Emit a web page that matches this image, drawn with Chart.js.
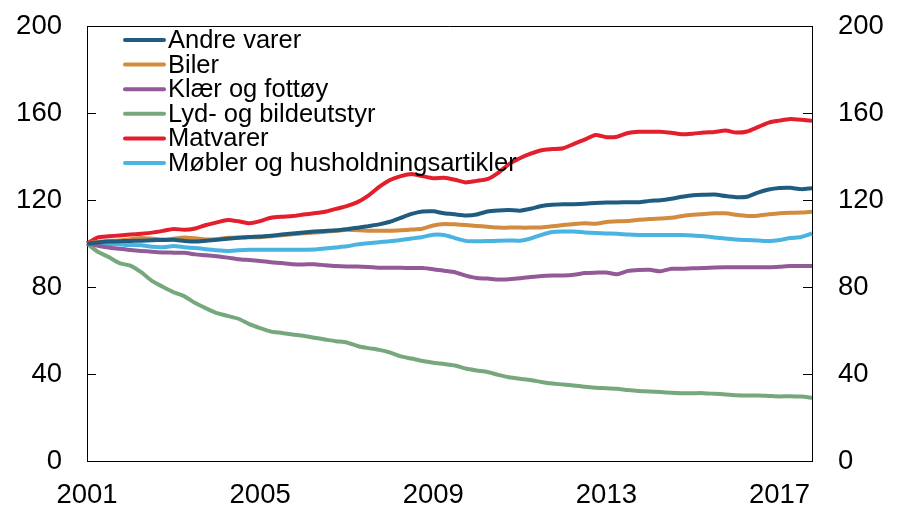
<!DOCTYPE html>
<html>
<head>
<meta charset="utf-8">
<script src="https://cdn.jsdelivr.net/npm/chart.js@4"></script>
<style>
  html, body { margin: 0; padding: 0; background: #fff; }
  #wrap { width: 900px; height: 526px; }
</style>
</head>
<body>
<div id="wrap"><canvas id="priceChart" width="900" height="526"></canvas></div>
<script>
// Prisindekser, 2001 = 100, kvartalsvis 2001K1 - 2017K4
const startYear = 2001;
const endYear = 2017;
const tickYears = ['2001', '2005', '2009', '2013', '2017'];
const yTicks = [0, 40, 80, 120, 160, 200];

const seriesNames = ['Andre varer', 'Biler', 'Klær og fottøy', 'Lyd- og bildeutstyr', 'Matvarer', 'Møbler og husholdningsartikler'];
const seriesColors = ['#1F5C80', '#D38B3F', '#935A98', '#77A87D', '#E31F2D', '#49B3E2'];

const andreVarer = [
    100, 100.5, 100.9, 101.0, 101.2, 101.3, 101.5, 101.6, 101.7, 101.2, 100.9, 101.3,
    101.7, 102.2, 102.6, 103.0, 103.2, 103.6, 104.1, 104.6, 105.1, 105.5, 105.8, 106.1,
    106.6, 107.2, 108.0, 108.8, 110.0, 111.8, 113.6, 114.7, 114.8, 113.9, 113.4, 112.9,
    113.3, 114.7, 115.2, 115.4, 115.1, 116.0, 117.2, 117.8, 118.0, 118.1, 118.3, 118.6,
    118.8, 118.9, 119.0, 119.0, 119.6, 119.9, 120.6, 121.5, 122.2, 122.4, 122.5, 121.8,
    121.3, 121.5, 123.4, 124.8, 125.5, 125.6, 125.0, 125.4
];
const biler = [
    100, 100.8, 101.2, 101.4, 102.0, 102.5, 102.2, 101.8, 102.2, 102.8, 102.4, 101.8,
    102.0, 102.6, 102.8, 102.9, 102.9, 103.3, 103.8, 104.3, 104.7, 105.0, 105.4, 105.8,
    106.3, 106.1, 105.9, 105.9, 105.9, 106.1, 106.4, 106.8, 108.3, 109.0, 108.8, 108.5,
    108.1, 107.7, 107.3, 107.3, 107.3, 107.3, 107.4, 107.9, 108.5, 109.0, 109.3, 109.1,
    109.9, 110.2, 110.3, 110.9, 111.3, 111.5, 111.8, 112.6, 113.2, 113.6, 113.9, 113.9,
    113.2, 112.7, 112.8, 113.4, 113.9, 114.1, 114.2, 114.6
];
const klaer = [
    100, 99.0, 98.2, 97.6, 97.0, 96.6, 96.2, 95.9, 95.8, 95.7, 95.0, 94.6,
    94.1, 93.5, 92.8, 92.4, 92.0, 91.4, 91.0, 90.5, 90.4, 90.5, 90.0, 89.6,
    89.4, 89.4, 89.2, 88.9, 88.8, 88.8, 88.7, 88.7, 88.2, 87.5, 86.8, 85.2,
    84.1, 83.9, 83.4, 83.6, 84.0, 84.6, 85.1, 85.3, 85.3, 85.6, 86.4, 86.6,
    86.7, 85.9, 87.4, 87.8, 87.9, 87.2, 88.4, 88.4, 88.6, 88.7, 89.0, 89.1,
    89.1, 89.1, 89.1, 89.1, 89.3, 89.6, 89.6, 89.6
];
const lydBilde = [
    100, 96.2, 93.8, 91.0, 89.8, 86.8, 82.8, 80.1, 77.6, 75.7, 72.6, 70.2,
    68.0, 66.7, 65.4, 62.9, 61.1, 59.5, 58.9, 58.2, 57.6, 56.7, 55.9, 55.1,
    54.5, 52.9, 51.9, 51.1, 49.9, 48.1, 47.1, 46.0, 45.2, 44.6, 43.9, 42.5,
    41.6, 40.9, 39.6, 38.5, 37.8, 37.2, 36.3, 35.6, 35.2, 34.7, 34.1, 33.7,
    33.5, 33.2, 32.6, 32.2, 32.0, 31.7, 31.4, 31.2, 31.2, 31.2, 30.9, 30.6,
    30.2, 30.1, 30.1, 29.9, 29.7, 29.8, 29.6, 29.1
];
const matvarer = [
    100, 102.8, 103.3, 103.7, 104.1, 104.5, 105.0, 105.8, 106.7, 106.3, 106.9, 108.5,
    109.7, 110.8, 110.2, 109.3, 110.3, 111.8, 112.3, 112.6, 113.3, 113.9, 114.6, 115.9,
    117.2, 119.0, 122.0, 126.0, 129.2, 131.0, 132.0, 131.0, 130.0, 130.2, 129.3, 128.1,
    128.8, 129.6, 132.5, 136.5, 139.2, 141.3, 142.9, 143.4, 143.8, 145.8, 147.8, 149.9,
    148.9, 149.1, 150.8, 151.4, 151.4, 151.4, 150.9, 150.2, 150.5, 151.0, 151.3, 151.9,
    151.0, 151.5, 153.5, 155.6, 156.5, 157.2, 156.9, 156.4
];
const mobler = [
    100, 100.3, 99.8, 99.6, 99.3, 99.2, 98.5, 98.3, 98.8, 98.3, 97.9, 97.4,
    96.9, 96.6, 96.9, 97.1, 97.1, 97.1, 97.1, 97.1, 97.1, 97.2, 97.7, 98.2,
    98.7, 99.6, 100.1, 100.6, 101.0, 101.6, 102.3, 103.0, 104.0, 103.9, 102.5, 101.2,
    101.0, 101.1, 101.3, 101.4, 101.3, 102.3, 104.0, 105.3, 105.5, 105.5, 105.1, 104.8,
    104.6, 104.5, 104.1, 103.9, 103.9, 103.9, 103.9, 103.9, 103.7, 103.3, 102.8, 102.3,
    101.8, 101.6, 101.4, 101.1, 101.6, 102.5, 103.0, 104.6
];

const quarters = [];
for (let y = startYear; y <= endYear; y++) {
    for (let q = 1; q <= 4; q++) quarters.push(y + 'K' + q);
}

const allSeries = [andreVarer, biler, klaer, lydBilde, matvarer, mobler];
const fontFam = '"Liberation Sans", Arial, sans-serif';

// inward tick marks, top border and legend inside the plot
const framePlugin = {
    id: 'frame',
    afterDraw(chart) {
        const ctx = chart.ctx;
        const a = chart.chartArea;
        const ys = chart.scales.y;
        ctx.save();
        ctx.strokeStyle = '#000';
        ctx.lineWidth = 1;
        ctx.beginPath();
        ctx.moveTo(a.left, a.top + 0.5);
        ctx.lineTo(a.right, a.top + 0.5);
        yTicks.forEach(function (v) {
            const py = Math.round(ys.getPixelForValue(v)) + 0.5;
            ctx.moveTo(a.left, py);
            ctx.lineTo(a.left + 9, py);
            ctx.moveTo(a.right - 9, py);
            ctx.lineTo(a.right, py);
        });
        ctx.stroke();

        ctx.font = '25.5px ' + fontFam;
        ctx.textBaseline = 'middle';
        ctx.textAlign = 'left';
        ctx.lineCap = 'round';
        chart.data.datasets.forEach(function (ds, i) {
            const cy = 40 + i * 24.6;
            ctx.strokeStyle = ds.borderColor;
            ctx.lineWidth = 4;
            ctx.beginPath();
            ctx.moveTo(125, cy);
            ctx.lineTo(164, cy);
            ctx.stroke();
            ctx.fillStyle = '#000';
            ctx.fillText(ds.label, 168, cy + 1);
        });
        ctx.restore();
    }
};

const datasets = allSeries.map(function (vals, i) {
    return {
        label: seriesNames[i],
        data: vals,
        borderColor: seriesColors[i],
        backgroundColor: seriesColors[i],
        borderWidth: 4,
        pointRadius: 0,
        tension: 0.2,
        fill: false
    };
});

const yAxis = function (pos, w) {
    return {
        position: pos,
        min: 0,
        max: 200,
        afterFit: function (s) {
            s.width = w;
            s.paddingTop = 0;
            s.paddingBottom = 0;
        },
        grid: { display: false, drawTicks: false },
        border: { display: true, color: '#000', width: 1 },
        ticks: {
            stepSize: 40,
            padding: pos === 'left' ? 25 : 26,
            color: '#000',
            font: { size: 27.5, family: fontFam }
        }
    };
};

new Chart(document.getElementById('priceChart'), {
    type: 'line',
    data: { labels: quarters, datasets: datasets },
    options: {
        responsive: false,
        animation: false,
        layout: { padding: { top: 26, left: 0, right: 0, bottom: 0 } },
        plugins: { legend: { display: false }, tooltip: { enabled: false } },
        scales: {
            x: {
                afterFit: function (s) {
                    s.height = 65;
                    s.paddingLeft = 0;
                    s.paddingRight = 0;
                },
                grid: { display: false, drawTicks: false },
                border: { display: true, color: '#000', width: 1 },
                ticks: {
                    autoSkip: false,
                    maxRotation: 0,
                    padding: 18,
                    color: '#000',
                    font: { size: 27.5, family: fontFam },
                    callback: function (v) {
                        const lab = this.getLabelForValue(v);
                        const yr = lab.slice(0, 4);
                        return (lab.endsWith('K1') && tickYears.indexOf(yr) >= 0) ? yr : '';
                    }
                }
            },
            y: yAxis('left', 87),
            y2: yAxis('right', 88)
        }
    },
    plugins: [framePlugin]
});
</script>
</body>
</html>
